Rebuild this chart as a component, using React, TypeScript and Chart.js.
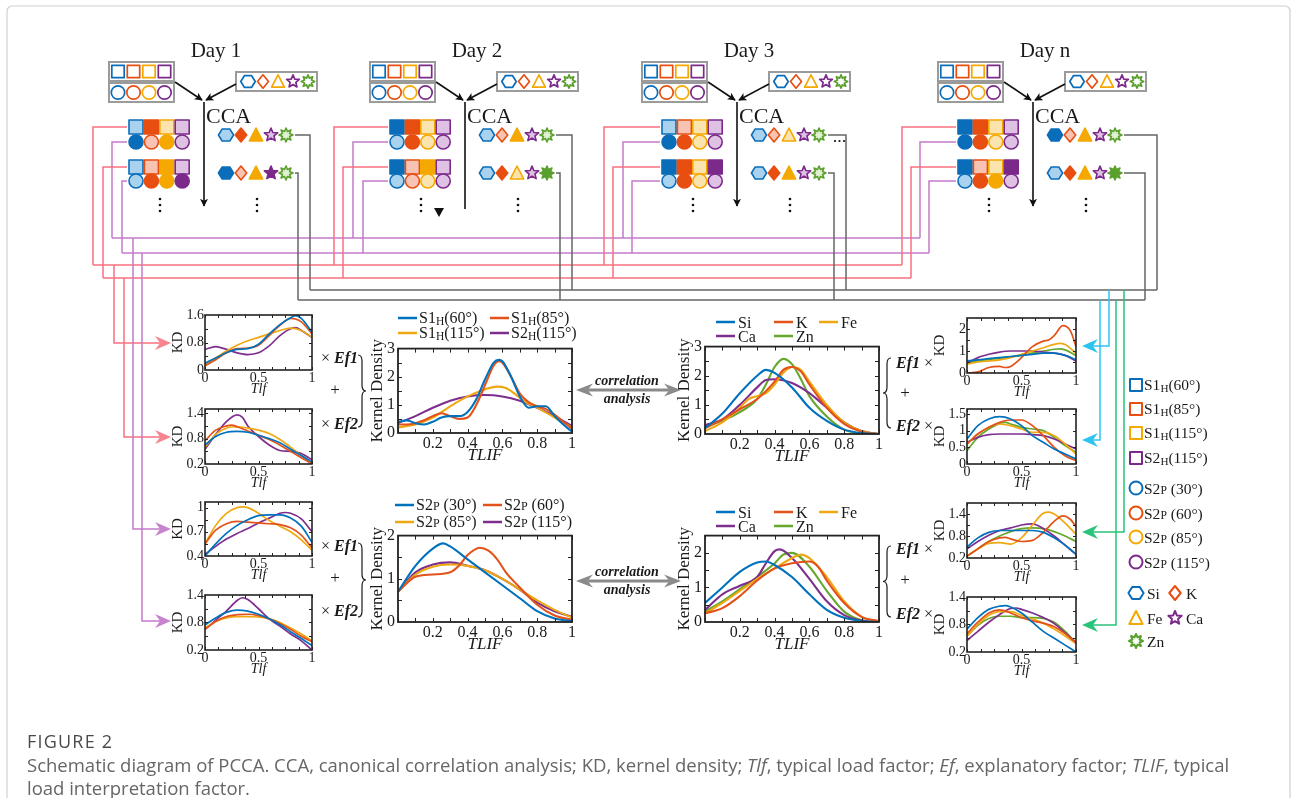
import React, { useEffect, useRef } from 'react';
import { Chart, registerables } from 'chart.js';
Chart.register(...registerables);

const SERIF = "'Liberation Serif', 'Times New Roman', serif";
const INK = '#1a1a1a';
const BLUE = '#0072BD', RED = '#E2521A', YEL = '#EFA812', PUR = '#7E2F8E', GRN = '#66A82E';

// ---------- tick labels ----------
const X_SMALL = [0, 0.5, 1];
const X_BIG = [0.2, 0.4, 0.6, 0.8, 1];
const X_MINOR_SMALL = [0, 0.125, 0.25, 0.375, 0.5, 0.625, 0.75, 0.875, 1];
const X_MINOR_BIG = [0, 0.1, 0.2, 0.3, 0.4, 0.5, 0.6, 0.7, 0.8, 0.9, 1];

// ---------- S1H, Ef1 (small, left top) ----------
const a60 = [[0,0.2],[0.1,0.35],[0.2,0.5],[0.3,0.6],[0.4,0.62],[0.5,0.75],[0.6,1.05],[0.7,1.32],[0.8,1.52],[0.85,1.58],[0.9,1.5],[1,1.1]];
const a85 = [[0,0.12],[0.1,0.3],[0.2,0.5],[0.3,0.62],[0.4,0.64],[0.5,0.72],[0.6,1.0],[0.7,1.3],[0.8,1.5],[0.9,1.4],[1,1.05]];
const a115 = [[0,0.15],[0.1,0.35],[0.2,0.55],[0.3,0.72],[0.4,0.85],[0.5,0.95],[0.6,1.05],[0.7,1.15],[0.8,1.22],[0.9,1.15],[1,0.95]];
const aS2 = [[0,0.6],[0.1,0.68],[0.2,0.6],[0.3,0.5],[0.4,0.45],[0.5,0.5],[0.6,0.7],[0.7,1.0],[0.8,1.2],[0.85,1.23],[0.9,1.15],[1,0.95]];
// ---------- S1H, Ef2 ----------
const b60 = [[0,0.65],[0.1,0.85],[0.2,0.95],[0.3,0.97],[0.4,0.95],[0.5,0.88],[0.6,0.8],[0.7,0.7],[0.8,0.55],[0.9,0.4],[1,0.25]];
const b85 = [[0,0.75],[0.1,1.0],[0.2,1.1],[0.25,1.12],[0.3,1.08],[0.4,0.98],[0.5,0.88],[0.6,0.78],[0.7,0.65],[0.8,0.5],[0.9,0.35],[1,0.2]];
const b115 = [[0,0.6],[0.1,0.9],[0.2,1.05],[0.3,1.08],[0.4,1.05],[0.5,1.0],[0.6,0.92],[0.7,0.78],[0.8,0.6],[0.9,0.4],[1,0.22]];
const bS2 = [[0,0.55],[0.1,0.9],[0.2,1.2],[0.3,1.36],[0.35,1.3],[0.4,1.1],[0.5,0.85],[0.6,0.65],[0.7,0.52],[0.8,0.5],[0.9,0.45],[1,0.3]];
// ---------- S2p, Ef1 ----------
const c30 = [[0,0.4],[0.1,0.55],[0.2,0.68],[0.3,0.78],[0.4,0.85],[0.5,0.9],[0.6,0.91],[0.7,0.91],[0.8,0.87],[0.9,0.77],[1,0.57]];
const c60 = [[0,0.55],[0.1,0.72],[0.2,0.8],[0.3,0.83],[0.4,0.82],[0.5,0.81],[0.6,0.8],[0.7,0.79],[0.8,0.75],[0.9,0.66],[1,0.5]];
const c85 = [[0,0.55],[0.1,0.78],[0.2,0.93],[0.3,1.0],[0.35,1.01],[0.4,1.0],[0.5,0.93],[0.6,0.84],[0.7,0.77],[0.8,0.7],[0.9,0.6],[1,0.47]];
const c115 = [[0,0.42],[0.1,0.52],[0.2,0.61],[0.3,0.68],[0.4,0.74],[0.5,0.81],[0.6,0.87],[0.7,0.93],[0.75,0.94],[0.8,0.93],[0.9,0.86],[1,0.7]];
// ---------- S2p, Ef2 ----------
const d30 = [[0,0.75],[0.1,0.9],[0.2,1.02],[0.3,1.07],[0.4,1.05],[0.5,0.98],[0.6,0.88],[0.7,0.75],[0.8,0.6],[0.9,0.45],[1,0.3]];
const d60 = [[0,0.65],[0.1,0.82],[0.2,0.93],[0.3,0.97],[0.4,0.98],[0.5,0.95],[0.6,0.88],[0.7,0.78],[0.8,0.65],[0.9,0.5],[1,0.38]];
const d85 = [[0,0.68],[0.1,0.82],[0.2,0.9],[0.3,0.93],[0.4,0.93],[0.5,0.92],[0.6,0.88],[0.7,0.8],[0.8,0.68],[0.9,0.55],[1,0.4]];
const d115 = [[0,0.65],[0.1,0.85],[0.2,1.05],[0.3,1.28],[0.35,1.34],[0.4,1.3],[0.5,1.1],[0.6,0.88],[0.7,0.72],[0.8,0.55],[0.9,0.4],[1,0.2]];
// ---------- elements, Ef1 (top) ----------
const eSi = [[0,0.55],[0.1,0.6],[0.2,0.65],[0.3,0.7],[0.4,0.75],[0.5,0.8],[0.6,0.85],[0.7,0.9],[0.8,0.9],[0.9,0.8],[1,0.6]];
const eK = [[0,0.0],[0.1,0.05],[0.2,0.25],[0.3,0.3],[0.35,0.25],[0.4,0.3],[0.5,0.7],[0.6,1.2],[0.7,1.45],[0.75,1.5],[0.8,1.7],[0.88,2.15],[0.95,1.9],[1,1.2]];
const eFe = [[0,0.4],[0.1,0.5],[0.2,0.55],[0.3,0.6],[0.4,0.7],[0.5,0.85],[0.6,1.0],[0.7,1.15],[0.8,1.3],[0.85,1.35],[0.9,1.3],[1,0.9]];
const eCa = [[0,0.45],[0.1,0.7],[0.2,0.85],[0.3,0.95],[0.4,1.0],[0.5,1.0],[0.6,1.0],[0.7,0.95],[0.8,0.9],[0.9,0.8],[1,0.55]];
const eZn = [[0,0.45],[0.1,0.55],[0.2,0.62],[0.3,0.68],[0.4,0.73],[0.5,0.8],[0.6,0.9],[0.7,1.0],[0.8,1.08],[0.85,1.1],[0.9,1.05],[1,0.8]];
// ---------- elements, Ef2 (top) ----------
const fSi = [[0,0.75],[0.1,1.15],[0.2,1.35],[0.3,1.42],[0.4,1.35],[0.5,1.15],[0.6,0.85],[0.7,0.65],[0.8,0.45],[0.9,0.3],[1,0.15]];
const fK = [[0,0.6],[0.1,0.9],[0.2,1.1],[0.3,1.25],[0.4,1.32],[0.5,1.32],[0.6,1.15],[0.7,0.85],[0.8,0.5],[0.9,0.25],[1,0.1]];
const fFe = [[0,0.6],[0.1,0.9],[0.2,1.1],[0.3,1.2],[0.4,1.15],[0.5,1.05],[0.6,0.95],[0.7,0.95],[0.8,0.85],[0.9,0.6],[1,0.3]];
const fCa = [[0,0.65],[0.1,0.8],[0.2,0.88],[0.3,0.9],[0.4,0.9],[0.5,0.9],[0.6,0.88],[0.7,0.85],[0.8,0.75],[0.9,0.6],[1,0.45]];
const fZn = [[0,0.4],[0.1,0.8],[0.2,1.05],[0.3,1.22],[0.35,1.25],[0.4,1.2],[0.5,1.1],[0.6,1.05],[0.7,1.0],[0.8,0.8],[0.9,0.55],[1,0.35]];
// ---------- elements, Ef1 (bottom) ----------
const gSi = [[0,0.5],[0.1,0.75],[0.2,0.9],[0.3,0.95],[0.4,0.95],[0.5,0.95],[0.6,0.95],[0.7,0.9],[0.8,0.75],[0.9,0.55],[1,0.3]];
const gK = [[0,0.25],[0.1,0.45],[0.2,0.65],[0.3,0.75],[0.35,0.76],[0.4,0.72],[0.5,0.65],[0.6,0.68],[0.7,0.9],[0.8,1.2],[0.88,1.35],[0.95,1.25],[1,1.05]];
const gFe = [[0,0.25],[0.1,0.45],[0.2,0.6],[0.3,0.62],[0.4,0.58],[0.5,0.75],[0.6,1.1],[0.7,1.42],[0.75,1.45],[0.8,1.4],[0.9,1.15],[1,0.85]];
const gCa = [[0,0.45],[0.1,0.65],[0.2,0.82],[0.3,0.95],[0.4,1.02],[0.5,1.1],[0.6,1.13],[0.7,1.0],[0.8,0.8],[0.9,0.55],[1,0.3]];
const gZn = [[0,0.25],[0.1,0.45],[0.2,0.65],[0.3,0.8],[0.4,0.92],[0.5,1.0],[0.6,1.02],[0.7,1.0],[0.8,0.92],[0.9,0.8],[1,0.65]];
// ---------- elements, Ef2 (bottom) ----------
const hSi = [[0,0.7],[0.1,0.95],[0.2,1.13],[0.3,1.2],[0.35,1.21],[0.4,1.18],[0.5,1.05],[0.6,0.85],[0.7,0.65],[0.8,0.5],[0.9,0.35],[1,0.2]];
const hK = [[0,0.6],[0.1,0.85],[0.2,1.05],[0.3,1.12],[0.4,1.05],[0.5,0.95],[0.6,0.88],[0.7,0.83],[0.8,0.75],[0.9,0.6],[1,0.4]];
const hFe = [[0,0.55],[0.1,0.8],[0.2,1.0],[0.3,1.08],[0.4,1.08],[0.5,1.0],[0.6,0.92],[0.7,0.83],[0.8,0.7],[0.9,0.55],[1,0.38]];
const hCa = [[0,0.45],[0.1,0.65],[0.2,0.85],[0.3,1.02],[0.4,1.15],[0.45,1.16],[0.5,1.13],[0.6,1.05],[0.7,0.95],[0.8,0.82],[0.9,0.62],[1,0.4]];
const hZn = [[0,0.55],[0.1,0.78],[0.2,0.93],[0.3,0.98],[0.4,0.98],[0.5,0.95],[0.6,0.95],[0.7,0.93],[0.8,0.85],[0.9,0.65],[1,0.4]];

// ---------- TLIF kernel densities ----------
const T1_60 = [[0,0.4],[0.05,0.45],[0.1,0.35],[0.15,0.3],[0.2,0.4],[0.25,0.55],[0.3,0.6],[0.35,0.6],[0.4,0.75],[0.45,1.2],[0.5,1.9],[0.55,2.5],[0.58,2.6],[0.6,2.55],[0.65,2.0],[0.7,1.3],[0.75,0.9],[0.8,0.95],[0.85,0.95],[0.9,0.6],[0.95,0.3],[1,0.05]];
const T1_85 = [[0,0.3],[0.05,0.3],[0.1,0.35],[0.15,0.45],[0.2,0.6],[0.25,0.7],[0.3,0.6],[0.35,0.5],[0.4,0.55],[0.45,1.0],[0.5,1.7],[0.55,2.4],[0.58,2.55],[0.6,2.5],[0.65,2.0],[0.7,1.4],[0.75,1.1],[0.8,0.95],[0.85,0.85],[0.9,0.65],[0.95,0.4],[1,0.15]];
const T1_115 = [[0,0.2],[0.1,0.3],[0.2,0.55],[0.3,0.95],[0.4,1.3],[0.5,1.55],[0.57,1.65],[0.62,1.6],[0.67,1.4],[0.72,1.15],[0.8,0.9],[0.9,0.55],[1,0.2]];
const T1_S2 = [[0,0.35],[0.1,0.6],[0.2,0.9],[0.3,1.15],[0.4,1.3],[0.5,1.35],[0.6,1.3],[0.7,1.15],[0.8,0.9],[0.9,0.6],[1,0.25]];

const T2_30 = [[0,0.7],[0.1,1.3],[0.2,1.7],[0.26,1.82],[0.3,1.75],[0.4,1.45],[0.5,1.15],[0.6,0.85],[0.7,0.55],[0.8,0.25],[0.9,0.08],[1,0.02]];
const T2_60 = [[0,0.7],[0.1,1.05],[0.2,1.1],[0.3,1.15],[0.35,1.3],[0.4,1.55],[0.47,1.72],[0.52,1.65],[0.57,1.45],[0.62,1.15],[0.7,0.8],[0.8,0.4],[0.9,0.15],[1,0.05]];
const T2_85 = [[0,0.7],[0.1,1.1],[0.2,1.28],[0.3,1.33],[0.4,1.3],[0.5,1.2],[0.6,1.0],[0.7,0.75],[0.8,0.5],[0.9,0.28],[1,0.1]];
const T2_115 = [[0,0.7],[0.1,1.15],[0.2,1.33],[0.3,1.38],[0.4,1.3],[0.5,1.2],[0.6,1.0],[0.7,0.75],[0.8,0.45],[0.9,0.25],[1,0.12]];

const T3_Si = [[0,0.2],[0.1,0.7],[0.2,1.4],[0.3,2.0],[0.35,2.2],[0.4,2.1],[0.5,1.6],[0.6,0.9],[0.7,0.45],[0.8,0.15],[0.9,0.03],[1,0]];
const T3_K = [[0,0.2],[0.1,0.5],[0.2,0.85],[0.3,1.2],[0.4,1.8],[0.45,2.2],[0.5,2.3],[0.55,2.15],[0.6,1.7],[0.7,0.9],[0.8,0.35],[0.9,0.08],[1,0]];
const T3_Fe = [[0,0.1],[0.1,0.4],[0.2,0.9],[0.25,1.2],[0.3,1.3],[0.35,1.4],[0.4,1.7],[0.45,2.1],[0.5,2.3],[0.55,2.2],[0.6,1.8],[0.7,1.0],[0.8,0.4],[0.9,0.1],[1,0]];
const T3_Ca = [[0,0.3],[0.1,0.5],[0.2,1.0],[0.3,1.6],[0.35,1.85],[0.4,1.88],[0.5,1.75],[0.6,1.4],[0.7,0.9],[0.8,0.4],[0.9,0.1],[1,0]];
const T3_Zn = [[0,0.25],[0.1,0.45],[0.2,0.75],[0.3,1.2],[0.35,1.7],[0.4,2.3],[0.45,2.58],[0.5,2.4],[0.55,1.9],[0.6,1.3],[0.7,0.6],[0.8,0.15],[0.9,0.02],[1,0]];

const T4_Si = [[0,0.55],[0.1,1.0],[0.2,1.45],[0.3,1.72],[0.35,1.75],[0.4,1.65],[0.5,1.3],[0.6,0.8],[0.7,0.35],[0.8,0.12],[0.9,0.03],[1,0]];
const T4_K = [[0,0.25],[0.1,0.4],[0.2,0.75],[0.3,1.2],[0.4,1.55],[0.5,1.7],[0.6,1.75],[0.65,1.6],[0.7,1.2],[0.8,0.55],[0.9,0.15],[1,0.02]];
const T4_Fe = [[0,0.25],[0.1,0.55],[0.2,0.9],[0.3,1.25],[0.4,1.55],[0.5,1.85],[0.55,1.95],[0.6,1.85],[0.7,1.3],[0.8,0.6],[0.9,0.15],[1,0.02]];
const T4_Ca = [[0,0.35],[0.1,0.8],[0.2,1.05],[0.3,1.3],[0.35,1.7],[0.4,2.05],[0.43,2.1],[0.5,1.85],[0.6,1.25],[0.7,0.6],[0.8,0.2],[0.9,0.04],[1,0]];
const T4_Zn = [[0,0.3],[0.1,0.6],[0.2,0.95],[0.3,1.3],[0.4,1.7],[0.45,1.95],[0.5,2.0],[0.6,1.6],[0.7,0.9],[0.8,0.3],[0.9,0.05],[1,0]];

// ---------- legend labels ----------
const H_LABELS = [['S1', 'H', '(60°)'], ['S1', 'H', '(85°)'], ['S1', 'H', '(115°)'], ['S2', 'H', '(115°)']];
const P_LABELS = [['S2', 'P', ' (30°)'], ['S2', 'P', ' (60°)'], ['S2', 'P', ' (85°)'], ['S2', 'P', ' (115°)']];
const ELEMENTS = ['Si', 'K', 'Fe', 'Ca', 'Zn'];
const DAYS = ['Day 1', 'Day 2', 'Day 3', 'Day n'];

const SER4 = [BLUE, RED, YEL, PUR];
const SER5 = [BLUE, RED, YEL, PUR, GRN];

// ---------- layout of the plots ----------
const SMALL = { ml: 40, mt: 10, mr: 9, mb: 29, tick: 14, title: 15, xtitle: 14, lw: 1.7 };
const BIG = { ml: 33, mt: 10, mr: 9, mb: 33, tick: 16, title: 17, xtitle: 17, lw: 2.1 };

const PLOTS: any[] = [
  { l: 205, t: 315, w: 107, h: 55, k: SMALL, yMin: 0, yMax: 1.6, yT: [0, 0.8, 1.6], yM: [0.4, 0.8, 1.2], s: [a60, a85, a115, aS2], c: SER4, xt: 'Tlf', yt: 'KD' },
  { l: 205, t: 409, w: 107, h: 55, k: SMALL, yMin: 0.2, yMax: 1.5, yT: [0.2, 0.8, 1.4], yM: [0.5, 0.8, 1.1, 1.4], s: [b60, b85, b115, bS2], c: SER4, xt: 'Tlf', yt: 'KD' },
  { l: 205, t: 502, w: 107, h: 54, k: SMALL, yMin: 0.4, yMax: 1.07, yT: [0.4, 0.7, 1], yM: [0.55, 0.7, 0.85, 1], s: [c30, c60, c85, c115], c: SER4, xt: 'Tlf', yt: 'KD' },
  { l: 205, t: 595, w: 107, h: 55, k: SMALL, yMin: 0.2, yMax: 1.4, yT: [0.2, 0.8, 1.4], yM: [0.5, 0.8, 1.1], s: [d30, d60, d85, d115], c: SER4, xt: 'Tlf', yt: 'KD' },
  { l: 967, t: 318, w: 109, h: 55, k: SMALL, yMin: 0, yMax: 2.5, yT: [0, 1, 2], yM: [0.5, 1, 1.5, 2], s: [eSi, eK, eFe, eCa, eZn], c: SER5, xt: 'Tlf', yt: 'KD' },
  { l: 967, t: 409, w: 109, h: 55, k: SMALL, yMin: 0, yMax: 1.65, yT: [0, 0.5, 1, 1.5], yM: [0.5, 1, 1.5], s: [fSi, fK, fFe, fCa, fZn], c: SER5, xt: 'Tlf', yt: 'KD' },
  { l: 967, t: 503, w: 109, h: 55, k: SMALL, yMin: 0.2, yMax: 1.7, yT: [0.2, 0.8, 1.4], yM: [0.5, 0.8, 1.1, 1.4], s: [gSi, gK, gFe, gCa, gZn], c: SER5, xt: 'Tlf', yt: 'KD' },
  { l: 967, t: 597, w: 109, h: 55, k: SMALL, yMin: 0.2, yMax: 1.4, yT: [0.2, 0.8, 1.4], yM: [0.5, 0.8, 1.1], s: [hSi, hK, hFe, hCa, hZn], c: SER5, xt: 'Tlf', yt: 'KD' },
  { l: 398, t: 346, w: 174, h: 87, k: BIG, yMin: 0, yMax: 3, yT: [0, 1, 2, 3], yM: [0.5, 1, 1.5, 2, 2.5], s: [T1_60, T1_85, T1_115, T1_S2], c: SER4, xt: 'TLIF', yt: 'Kernel Density', big: true },
  { l: 398, t: 533, w: 174, h: 89, k: BIG, yMin: 0, yMax: 2, yT: [0, 1, 2], yM: [0.5, 1, 1.5], s: [T2_30, T2_60, T2_85, T2_115], c: SER4, xt: 'TLIF', yt: 'Kernel Density', big: true },
  { l: 705, t: 344, w: 174, h: 90, k: BIG, yMin: 0, yMax: 3, yT: [0, 1, 2, 3], yM: [0.5, 1, 1.5, 2, 2.5], s: [T3_Si, T3_K, T3_Fe, T3_Ca, T3_Zn], c: SER5, xt: 'TLIF', yt: 'Kernel Density', big: true },
  { l: 705, t: 533, w: 174, h: 89, k: BIG, yMin: 0, yMax: 2.5, yT: [0, 1, 2], yM: [0.5, 1, 1.5, 2], s: [T4_Si, T4_K, T4_Fe, T4_Ca, T4_Zn], c: SER5, xt: 'TLIF', yt: 'Kernel Density', big: true },
];

const boxPlugin = {
  id: 'matBox',
  afterDraw(chart: any, _a: any, o: any) {
    const { ctx, chartArea: a, scales } = chart;
    ctx.save();
    ctx.strokeStyle = '#222';
    ctx.lineWidth = 1;
    const L = o.len;
    ctx.beginPath();
    for (const v of o.xm) {
      const px = Math.round(scales.x.getPixelForValue(v)) + 0.5;
      ctx.moveTo(px, a.bottom); ctx.lineTo(px, a.bottom - L);
      ctx.moveTo(px, a.top); ctx.lineTo(px, a.top + L);
    }
    for (const v of o.ym) {
      const py = Math.round(scales.y.getPixelForValue(v)) + 0.5;
      ctx.moveTo(a.left, py); ctx.lineTo(a.left + L, py);
      ctx.moveTo(a.right, py); ctx.lineTo(a.right - L, py);
    }
    ctx.stroke();
    ctx.lineWidth = o.bw;
    ctx.strokeRect(a.left, a.top, a.right - a.left, a.bottom - a.top);
    ctx.restore();
  },
};

function KdPlot({ p }: any) {
  const ref = useRef<HTMLCanvasElement>(null);
  const k = p.k;
  const W = p.w + k.ml + k.mr;
  const H = p.h + k.mt + k.mb;
  useEffect(() => {
    const chart = new Chart(ref.current as any, {
      type: 'line',
      data: {
        datasets: p.s.map((d: any, i: number) => ({
          data: d.map(([x, y]: any) => ({ x, y })),
          borderColor: p.c[i],
          borderWidth: k.lw,
          pointRadius: 0,
          fill: false,
          cubicInterpolationMode: 'monotone',
        })),
      },
      options: {
        responsive: false,
        animation: false,
        devicePixelRatio: 1,
        events: [],
        layout: { padding: { left: 0, top: k.mt, right: k.mr, bottom: 0 } },
        plugins: {
          legend: { display: false },
          tooltip: { enabled: false },
          matBox: { xm: p.big ? X_MINOR_BIG : X_MINOR_SMALL, ym: p.yM, len: p.big ? 4 : 3, bw: p.big ? 1.8 : 1.6 },
        } as any,
        scales: {
          x: {
            type: 'linear', min: 0, max: 1,
            grid: { display: false, drawTicks: false },
            border: { display: false },
            afterBuildTicks: (s: any) => { s.ticks = (p.big ? X_BIG : X_SMALL).map((v) => ({ value: v })); },
            afterFit: (s: any) => { s.height = k.mb; },
            ticks: { padding: p.big ? 1 : 0, autoSkip: false, maxRotation: 0, minRotation: 0, color: INK, font: { family: SERIF, size: k.tick }, callback: (v: any) => String(v) },
            title: { display: true, text: p.xt, color: INK, font: { family: SERIF, size: k.xtitle, style: 'italic' }, padding: { top: 0, bottom: p.big ? 0 : 1 } },
          },
          y: {
            type: 'linear', min: p.yMin, max: p.yMax,
            grid: { display: false, drawTicks: false },
            border: { display: false },
            afterBuildTicks: (s: any) => { s.ticks = p.yT.map((v: number) => ({ value: v })); },
            afterFit: (s: any) => { s.width = k.ml; },
            ticks: { padding: p.big ? 3 : 1, autoSkip: false, color: INK, font: { family: SERIF, size: k.tick }, callback: (v: any) => String(v) },
            title: { display: true, text: p.yt, color: INK, font: { family: SERIF, size: k.title }, padding: { top: p.big ? 2 : 4, bottom: 0 } },
          },
        },
      } as any,
      plugins: [boxPlugin],
    });
    return () => chart.destroy();
  }, []);
  return (
    <canvas ref={ref} width={W} height={H}
      style={{ position: 'absolute', left: p.l - k.ml, top: p.t - k.mt, width: W, height: H }} />
  );
}

// ---------- schematic ----------
const SYMC = ['#0A6DBA', '#E84E10', '#F4A800', '#7B2A8A', '#5AA02C'];
const SYML = ['#A9D2EE', '#F8C3B3', '#FBE3AE', '#DEC1E3', '#E0F0D0'];

function shape(kind: string, x: number, y: number, s: number, ci: number, st: string, key: any, sw = 1.7) {
  const col = SYMC[ci];
  const fill = st === 'S' ? col : st === 'L' ? SYML[ci] : '#fff';
  const pr = { fill, stroke: col, strokeWidth: sw, key, strokeLinejoin: 'round' as any };
  const poly = (pts: number[][]) => <polygon {...pr} points={pts.map((q) => q.join(',')).join(' ')} />;
  if (kind === 'sq') return <rect {...pr} x={x - s} y={y - s} width={2 * s} height={2 * s} />;
  if (kind === 'ci') return <circle {...pr} cx={x} cy={y} r={s} />;
  if (kind === 'hex') {
    const pts = [0, 60, 120, 180, 240, 300].map((a) => [x + s * 1.08 * Math.cos((a * Math.PI) / 180), y + s * Math.sin((a * Math.PI) / 180)]);
    return poly(pts);
  }
  if (kind === 'dia') return poly([[x, y - s], [x + s * 0.82, y], [x, y + s], [x - s * 0.82, y]]);
  if (kind === 'tri') return poly([[x, y - s], [x + s * 0.95, y + s * 0.85], [x - s * 0.95, y + s * 0.85]]);
  const n = kind === 'star' ? 5 : 8;
  const ri = kind === 'star' ? 0.45 : 0.55;
  const pts: number[][] = [];
  for (let i = 0; i < 2 * n; i++) {
    const a = -Math.PI / 2 + (i * Math.PI) / n;
    const r = i % 2 === 0 ? s : s * ri;
    pts.push([x + r * Math.cos(a), y + r * Math.sin(a)]);
  }
  return poly(pts);
}

const EL_KINDS = ['hex', 'dia', 'tri', 'star', 'zn'];
const DAY_X = [109, 370, 642, 938];
const SQ1 = ['LSLL', 'SSLL', 'LLLL', 'SSLL'];
const CI1 = ['SLSL', 'LSLL', 'SSLL', 'SSLL'];
const SQ2 = ['LLSL', 'SLSL', 'SSLS', 'SLLS'];
const CI2 = ['LSSS', 'LLLL', 'LSLL', 'LSSL'];
const EL1 = ['LSSLL', 'LLSLL', 'LLLLL', 'SLSLL'];
const EL2 = ['SLSSL', 'LSLLS', 'LSSLL', 'LSSLS'];
const RED1_X = [93, 334, 604, 902];
const RED2_X = [103, 343, 613, 911];
const PUR1_X = [112, 353, 623, 920];
const PUR2_X = [122, 363, 632, 929];
const GR1_X = [310, 572, 846, 1157];
const GR2_X = [298, 560, 834, 1145];

const LRED = '#F9707E', LPUR = '#C57ACB', LGRY = '#666', LCYA = '#2EC3EF', LGRN = '#27C47A';

function stealth(tx: number, ty: number, dir: number, col: string, key: any, len = 16, half = 7) {
  const bx = tx - dir * len, nx = tx - dir * len * 0.68;
  return <path key={key} d={`M${tx},${ty} L${bx},${ty - half} L${nx},${ty} L${bx},${ty + half} Z`} fill={col} />;
}

function SubLabel({ x, y, parts, size = 16 }: any) {
  const [a, b, c] = parts;
  const sub = b === 'H' ? 4 : 2;
  const ss = b === 'H' ? size * 0.72 : size * 0.75;
  return (
    <text x={x} y={y} fontFamily={SERIF} fontSize={size} fill={INK} dominantBaseline="central">
      {a}<tspan fontSize={ss} dy={sub}>{b}</tspan><tspan fontSize={size} dy={-sub}>{c}</tspan>
    </text>
  );
}

function Schematic() {
  const els: any[] = [];
  let k = 0;
  const K = () => 'k' + k++;
  const line = (pts: number[][], col: string, w = 1.5) =>
    els.push(<polyline key={K()} points={pts.map((q) => q.join(',')).join(' ')} fill="none" stroke={col} strokeWidth={w} />);

  line([[PUR1_X[0], 238], [PUR1_X[3], 238]], LPUR);
  line([[PUR2_X[0], 253], [PUR2_X[3], 253]], LPUR);
  line([[RED1_X[0], 265], [RED1_X[3], 265]], LRED);
  line([[RED2_X[0], 278], [RED2_X[3], 278]], LRED);
  line([[GR1_X[0], 290], [GR1_X[3], 290]], LGRY);
  line([[GR2_X[0], 300], [GR2_X[3], 300]], LGRY);

  DAY_X.forEach((b, d) => {
    const cx = b + 95;
    line([[b + 18, 127], [RED1_X[d], 127], [RED1_X[d], 265]], LRED);
    line([[b + 18, 142], [PUR1_X[d], 142], [PUR1_X[d], 238]], LPUR);
    line([[b + 18, 167], [RED2_X[d], 167], [RED2_X[d], 278]], LRED);
    line([[b + 18, 181], [PUR2_X[d], 181], [PUR2_X[d], 253]], LPUR);
    line([[b + 186, 135], [GR1_X[d], 135], [GR1_X[d], 290]], LGRY);
    line([[b + 186, 173], [GR2_X[d], 173], [GR2_X[d], 300]], LGRY);

    els.push(<text key={K()} x={b + 107} y={50} textAnchor="middle" dominantBaseline="central" fontFamily={SERIF} fontSize={21} fill={INK}>{DAYS[d]}</text>);
    els.push(<rect key={K()} x={b} y={62} width={65} height={19} fill="#fff" stroke="#9B9B9B" strokeWidth={2} />);
    els.push(<rect key={K()} x={b} y={83} width={65} height={19} fill="#fff" stroke="#9B9B9B" strokeWidth={2} />);
    els.push(<rect key={K()} x={b + 127} y={72} width={81} height={19} fill="#fff" stroke="#9B9B9B" strokeWidth={2} />);
    for (let i = 0; i < 4; i++) {
      els.push(shape('sq', b + 9 + 15.5 * i, 71.5, 6.2, i, 'O', K()));
      els.push(shape('ci', b + 9 + 15.5 * i, 92.5, 6.7, i, 'O', K()));
    }
    for (let i = 0; i < 5; i++) els.push(shape(EL_KINDS[i], b + 139 + 15 * i, 81.5, 6.7, i, 'O', K()));
    els.push(<line key={K()} x1={b + 66} y1={82} x2={cx - 2} y2={100} stroke="#111" strokeWidth={1.6} markerEnd="url(#ah)" />);
    els.push(<line key={K()} x1={b + 127} y1={84} x2={cx + 2} y2={100} stroke="#111" strokeWidth={1.6} markerEnd="url(#ah)" />);
    if (d === 1) {
      els.push(<line key={K()} x1={cx} y1={102} x2={cx} y2={209} stroke="#111" strokeWidth={1.6} />);
      els.push(<path key={K()} d={`M${b + 64},${208} L${b + 74},${208} L${b + 69},${217} Z`} fill="#111" />);
    } else {
      els.push(<line key={K()} x1={cx} y1={102} x2={cx} y2={206} stroke="#111" strokeWidth={1.6} markerEnd="url(#ah)" />);
    }
    els.push(<text key={K()} x={cx + 2} y={115} dominantBaseline="central" fontFamily={SERIF} fontSize={22} fill={INK}>CCA</text>);
    for (let i = 0; i < 4; i++) {
      const x = b + 27 + 15.4 * i;
      els.push(shape('sq', x, 127, 7, i, SQ1[d][i], K(), 1.6));
      els.push(shape('ci', x, 142, 7, i, CI1[d][i], K(), 1.6));
      els.push(shape('sq', x, 167, 7, i, SQ2[d][i], K(), 1.6));
      els.push(shape('ci', x, 181, 7, i, CI2[d][i], K(), 1.6));
    }
    for (let i = 0; i < 5; i++) {
      els.push(shape(EL_KINDS[i], b + 117 + 15 * i, 135, 7, i, EL1[d][i], K(), 1.6));
      els.push(shape(EL_KINDS[i], b + 117 + 15 * i, 173, 7, i, EL2[d][i], K(), 1.6));
    }
    for (const yy of [199, 205, 211]) {
      els.push(<circle key={K()} cx={b + 51} cy={yy} r={1.3} fill="#111" />);
      els.push(<circle key={K()} cx={b + 148} cy={yy} r={1.3} fill="#111" />);
    }
    if (d === 2) for (const xx of [835, 839.5, 844]) els.push(<circle key={K()} cx={xx} cy={141} r={1.1} fill="#111" />);
  });

  const leftDrops = [[114, 265, 343, LRED, '#F7848F'], [124, 278, 437, LRED, '#F7848F'], [133, 238, 529, LPUR, '#C883CF'], [142, 253, 621, LPUR, '#C883CF']];
  leftDrops.forEach(([x, y0, y1, c, ac]: any) => {
    line([[x, y0], [x, y1], [160, y1]], c);
    els.push(stealth(171, y1, 1, ac, K()));
  });
  const rightDrops = [[1109, 290, 346, LCYA], [1100, 300, 440, LCYA], [1124, 290, 532, LGRN], [1116, 300, 625, LGRN]];
  rightDrops.forEach(([x, y0, y1, c]: any) => {
    line([[x, y0], [x, y1], [1093, y1]], c);
    els.push(stealth(1082, y1, -1, c, K()));
  });

  const efL = [[357, 'Ef1'], [423, 'Ef2'], [545, 'Ef1'], [610, 'Ef2']];
  efL.forEach(([y, t]: any) => {
    els.push(<text key={K()} x={321} y={y} dominantBaseline="central" fontFamily={SERIF} fontSize={16} fill={INK}>×<tspan dx={4} fontWeight="bold" fontStyle="italic">{t}</tspan></text>);
  });
  const efR = [[362, 'Ef1'], [425, 'Ef2'], [548, 'Ef1'], [613, 'Ef2']];
  efR.forEach(([y, t]: any) => {
    els.push(<text key={K()} x={896} y={y} dominantBaseline="central" fontFamily={SERIF} fontSize={16} fill={INK}><tspan fontWeight="bold" fontStyle="italic">{t}</tspan><tspan dx={4}>×</tspan></text>);
  });
  for (const [x, y] of [[335, 389], [335, 577], [905, 392], [905, 579]]) {
    els.push(<text key={K()} x={x} y={y} textAnchor="middle" dominantBaseline="central" fontFamily={SERIF} fontSize={17} fill={INK}>+</text>);
  }
  const brace = (x: number, y0: number, y1: number, dir: number) => {
    const m = (y0 + y1) / 2;
    const e = x - dir * 4;
    const d = `M${e},${y0} Q${x},${y0} ${x},${y0 + 6} L${x},${m - 6} Q${x},${m} ${x + dir * 4},${m} Q${x},${m} ${x},${m + 6} L${x},${y1 - 6} Q${x},${y1} ${e},${y1}`;
    els.push(<path key={K()} d={d} fill="none" stroke={INK} strokeWidth={1.2} />);
  };
  brace(362, 355, 427, 1);
  brace(362, 543, 617, 1);
  brace(887, 358, 428, -1);
  brace(887, 546, 617, -1);

  for (const [y, ty] of [[390, 380], [581, 571]]) {
    line([[588, y], [669, y]], '#8A8A8A', 3);
    els.push(stealth(576, y, -1, '#8A8A8A', K(), 17, 6.5));
    els.push(stealth(681, y, 1, '#8A8A8A', K(), 17, 6.5));
    els.push(<text key={K()} x={627} y={ty} textAnchor="middle" dominantBaseline="central" fontFamily={SERIF} fontSize={14} fontWeight="bold" fontStyle="italic" fill={INK}>correlation</text>);
    els.push(<text key={K()} x={627} y={ty + 18} textAnchor="middle" dominantBaseline="central" fontFamily={SERIF} fontSize={14} fontWeight="bold" fontStyle="italic" fill={INK}>analysis</text>);
  }

  const leg = (x: number, y: number, c: string, lab: any) => {
    els.push(<line key={K()} x1={x} y1={y} x2={x + 19} y2={y} stroke={c} strokeWidth={2.5} />);
    if (typeof lab === 'string') els.push(<text key={K()} x={x + 22} y={y} dominantBaseline="central" fontFamily={SERIF} fontSize={16} fill={INK}>{lab}</text>);
    else els.push(<SubLabel key={K()} x={x + 21} y={y - 1} parts={lab} />);
  };
  [[398, 318], [490, 318], [398, 333], [490, 333]].forEach(([x, y], i) => leg(x, y, SER4[i], H_LABELS[i]));
  [[395, 505], [483, 505], [395, 522], [483, 522]].forEach(([x, y], i) => leg(x, y, SER4[i], P_LABELS[i]));
  [[716, 322], [774, 322], [819, 322], [716, 336], [774, 336]].forEach(([x, y], i) => leg(x, y, SER5[i], ELEMENTS[i]));
  [[716, 512], [774, 512], [819, 512], [716, 526], [774, 526]].forEach(([x, y], i) => leg(x, y, SER5[i], ELEMENTS[i]));

  [385, 409, 433, 458].forEach((y, i) => {
    els.push(shape('sq', 1136, y, 6, i, 'O', K(), 2));
    els.push(<SubLabel key={K()} x={1144} y={y - 1} parts={H_LABELS[i]} size={15.5} />);
  });
  [488, 513, 537, 562].forEach((y, i) => {
    els.push(shape('ci', 1136, y, 6.5, i, 'O', K(), 2));
    els.push(<SubLabel key={K()} x={1144} y={y} parts={P_LABELS[i]} size={15.5} />);
  });
  const elPos = [[1136, 593], [1175, 593], [1136, 618], [1175, 618], [1136, 641]];
  elPos.forEach(([x, y], i) => {
    els.push(shape(EL_KINDS[i], x, y, 7, i, 'O', K(), 2));
    els.push(<text key={K()} x={x + 11} y={y} dominantBaseline="central" fontFamily={SERIF} fontSize={15.5} fill={INK}>{ELEMENTS[i]}</text>);
  });

  return (
    <svg width={1293} height={798} style={{ position: 'absolute', left: 0, top: 0, pointerEvents: 'none' }}>
      <defs>
        <marker id="ah" viewBox="0 0 10 10" refX="9" refY="5" markerWidth="5" markerHeight="5" orient="auto" markerUnits="strokeWidth">
          <path d="M0,0 L10,5 L0,10 L2.5,5 Z" fill="#111" />
        </marker>
      </defs>
      <rect x={7} y={6} width={1283} height={860} rx={5} fill="none" stroke="#CFCFCF" strokeWidth={1.2} />
      {els}
    </svg>
  );
}

export default function App() {
  return (
    <div style={{ position: 'absolute', left: 0, top: 0, width: 1293, height: 798, background: '#fff', overflow: 'hidden' }}>
      {PLOTS.map((p, i) => <KdPlot key={i} p={p} />)}
      <Schematic />
      <div style={{ position: 'absolute', left: 27, top: 729, fontFamily: "'Open Sans', sans-serif", fontSize: 18, color: '#4a4a4a', letterSpacing: 1.2, lineHeight: '24px' }}>FIGURE 2</div>
      <div style={{ position: 'absolute', left: 27, top: 753, fontFamily: "'Open Sans', sans-serif", fontSize: 18.5, color: '#666', lineHeight: '23px', whiteSpace: 'nowrap' }}>
        <div>Schematic diagram of PCCA. CCA, canonical correlation analysis; KD, kernel density; <i>Tlf</i>, typical load factor; <i>Ef</i>, explanatory factor; <i>TLIF</i>, typical</div>
        <div>load interpretation factor.</div>
      </div>
    </div>
  );
}
